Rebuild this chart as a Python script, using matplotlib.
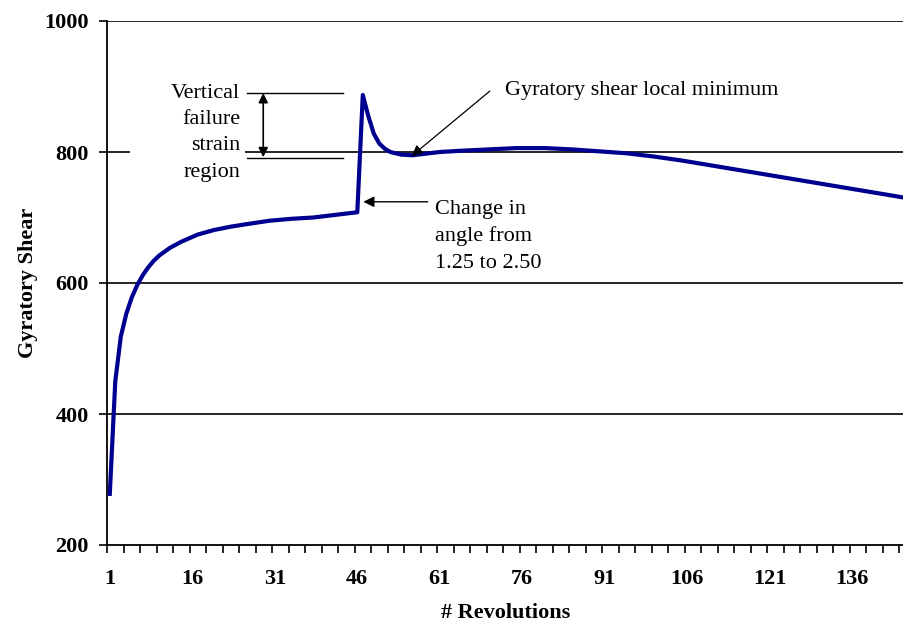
import numpy as np
import matplotlib
matplotlib.use("Agg")
import matplotlib.pyplot as plt
from matplotlib.patches import Rectangle

plt.rcParams['font.family'] = ['Liberation Serif', 'DejaVu Serif']

# gyratory shear readings against revolution number
revolutions = [1, 2, 3, 4, 5, 6, 7, 8, 9, 10, 12, 14, 17, 20, 23, 26, 30, 34, 38, 42, 46,
               47, 48, 49, 50, 51, 52, 54, 56, 58, 61, 65, 70, 75, 80, 85, 90, 95,
               100, 105, 110, 115, 120, 125, 130, 135, 140, 145]
shear = [278, 450, 518, 553, 578, 597, 612, 624, 634, 642, 654, 663, 674, 681, 686,
         690, 695, 698, 700, 704, 708,
         887, 855, 828, 813, 805, 800, 796, 795, 797, 800, 802, 804, 806, 806, 804,
         801, 798, 793, 787, 780, 773, 766, 759, 752, 745, 738, 731]

xtick_labels = [1, 16, 31, 46, 61, 76, 91, 106, 121, 136]
ytick_values = [200, 400, 600, 800, 1000]

fig = plt.figure(figsize=(9.04, 6.25), dpi=100)
ax = fig.add_axes([0.1184, 0.128, 0.8816, 0.8384])

ax.plot(revolutions, shear, color='#000090', lw=3.0, solid_joinstyle='round', zorder=3)

ax.set_xlim(0.5, 145.4)
ax.set_ylim(200, 1000)

# horizontal grid lines
for v in ytick_values[1:]:
    ax.axhline(v, color='black', lw=1.2, zorder=1)

ax.set_yticks(ytick_values)
ax.set_yticklabels([str(v) for v in ytick_values], fontweight='bold', fontsize=16)
ax.set_xticks(xtick_labels)
ax.set_xticklabels([str(v) for v in xtick_labels], fontweight='bold', fontsize=16)
ax.set_xticks(np.arange(0.5, 146, 3), minor=True)
ax.tick_params(axis='x', which='major', length=0, pad=17)
ax.tick_params(axis='x', which='minor', length=6, width=1.2, direction='out')
ax.tick_params(axis='y', length=6, width=1.2, direction='out', pad=7)

for s in ['top', 'right']:
    ax.spines[s].set_visible(False)
for s in ['left', 'bottom']:
    ax.spines[s].set_linewidth(1.3)

ax.set_xlabel('# Revolutions', fontweight='bold', fontsize=16, labelpad=10)
ax.set_ylabel('Gyratory Shear', fontweight='bold', fontsize=16, labelpad=5)

# white box behind the failure region label
ax.add_patch(Rectangle((4.7, 750), 20.9, 163, facecolor='white', edgecolor='none', zorder=2))
ax.text(24.7, 904, 'Vertical\nfailure\nstrain\nregion', ha='right', va='top',
        fontsize=16, linespacing=1.52, zorder=4)
ax.plot([26.0, 43.4], [890.5, 890.5], color='black', lw=1.0, zorder=4)
ax.plot([26.0, 43.4], [791, 791], color='black', lw=1.0, zorder=4)
ax.annotate('', xy=(28.9, 890), xytext=(28.9, 792),
            arrowprops=dict(arrowstyle='<|-|>', color='black', lw=1.2,
                            mutation_scale=14, shrinkA=0, shrinkB=0), zorder=4)

ax.annotate('', xy=(47.1, 724), xytext=(58.8, 724),
            arrowprops=dict(arrowstyle='-|>', color='black', lw=1.0,
                            mutation_scale=16, shrinkA=0, shrinkB=0), zorder=4)
ax.text(60.2, 727, 'Change in\nangle from\n1.25 to 2.50', ha='left', va='top',
        fontsize=16, linespacing=1.52, zorder=4)

ax.annotate('', xy=(55.9, 794), xytext=(70.1, 893),
            arrowprops=dict(arrowstyle='-|>', color='black', lw=0.9,
                            mutation_scale=16, shrinkA=0, shrinkB=0), zorder=4)
ax.text(72.9, 894, 'Gyratory shear local minimum', ha='left', va='center',
        fontsize=16, zorder=4)

fig.savefig('out.png', dpi=100)
